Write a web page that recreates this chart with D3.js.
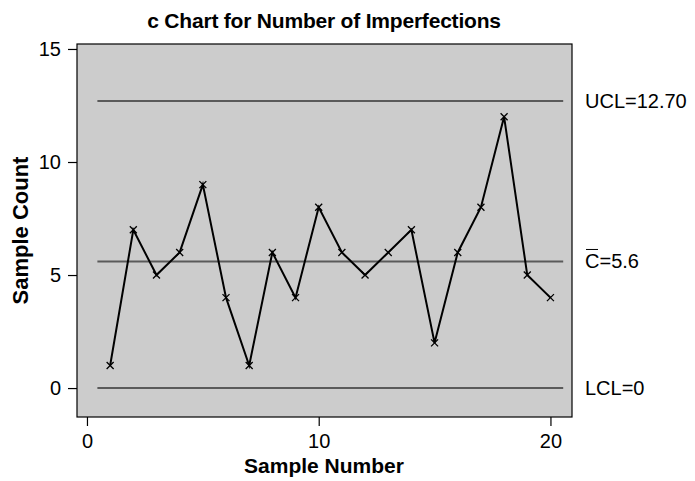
<!DOCTYPE html>
<html>
<head>
<meta charset="utf-8">
<script src="https://cdn.jsdelivr.net/npm/d3@7"></script>
<style>
  html, body { margin: 0; padding: 0; background: #fff; }
  svg { display: block; font-family: "Liberation Sans", Arial, Helvetica, sans-serif; }
</style>
</head>
<body>
<svg id="chart" width="695" height="481"></svg>
<script>
// ---------- data ----------
const samples = d3.range(1, 21);
const counts = [1, 7, 5, 6, 9, 4, 1, 6, 4, 8, 6, 5, 6, 7, 2, 6, 8, 12, 5, 4];
const xTicks = [0, 10, 20];
const yTicks = [0, 5, 10, 15];
const limits = [
  { key: 'UCL', value: 12.70, label: 'UCL=12.70' },
  { key: 'CL', value: 5.6, label: '=5.6' },
  { key: 'LCL', value: 0, label: 'LCL=0' }
];

const svg = d3.select('#chart');
const m = { l: 77, r: 572, t: 44, b: 417 };

const x = d3.scaleLinear().domain([-0.43, 20.93]).range([m.l, m.r]);
const y = d3.scaleLinear().domain([-1.28, 15.22]).range([m.b, m.t]);

// title
svg.append('text').attr('x', 324).attr('y', 28).attr('text-anchor', 'middle')
  .attr('font-size', 21).attr('font-weight', 700).attr('letter-spacing', -0.2)
  .text('c Chart for Number of Imperfections');

// plot background
svg.append('rect').attr('x', m.l).attr('y', m.t).attr('width', m.r - m.l).attr('height', m.b - m.t)
  .attr('fill', '#cccccc').attr('stroke', '#000').attr('stroke-width', 1.2);

// axes
const yAxis = svg.append('g').attr('transform', `translate(${m.l},0)`)
  .call(d3.axisLeft(y).tickValues(yTicks).tickSize(9).tickPadding(7));
const xAxis = svg.append('g').attr('transform', `translate(0,${m.b})`)
  .call(d3.axisBottom(x).tickValues(xTicks).tickSize(9).tickPadding(8));
[yAxis, xAxis].forEach(a => {
  a.select('.domain').remove();
  a.selectAll('line').attr('stroke', '#000').attr('stroke-width', 1.2);
  a.selectAll('text').attr('font-size', 20).attr('fill', '#000')
    .attr('font-family', '"Liberation Sans", Arial, sans-serif');
});

// axis titles
svg.append('text').attr('x', 324).attr('y', 473).attr('text-anchor', 'middle')
  .attr('font-size', 21).attr('font-weight', 700).text('Sample Number');
svg.append('text').attr('transform', `translate(28,${(m.t + m.b) / 2}) rotate(-90)`)
  .attr('text-anchor', 'middle').attr('font-size', 22).attr('font-weight', 700).text('Sample Count');

// control lines
const lx0 = x(0.45), lx1 = x(20.55);
svg.append('g').selectAll('line').data(limits).join('line')
  .attr('x1', lx0).attr('x2', lx1)
  .attr('y1', d => y(d.value)).attr('y2', d => y(d.value))
  .attr('stroke', '#5a5a5a').attr('stroke-width', 2);

// limit labels
const lab = svg.append('g').selectAll('text').data(limits).join('text')
  .attr('x', 585).attr('y', d => y(d.value) + 7)
  .attr('font-size', 20).attr('fill', '#000');
lab.each(function (d) {
  const t = d3.select(this);
  if (d.key === 'CL') {
    t.append('tspan').text('C');
    t.append('tspan').text(d.label);
  } else {
    t.text(d.label);
  }
});
// bar over the C
svg.append('line').attr('x1', 586).attr('x2', 598)
  .attr('y1', y(5.6) - 12).attr('y2', y(5.6) - 12)
  .attr('stroke', '#000').attr('stroke-width', 1);

// data line
const pts = samples.map((s, i) => ({ s, c: counts[i] }));
svg.append('path').datum(pts)
  .attr('d', d3.line().x(d => x(d.s)).y(d => y(d.c)))
  .attr('fill', 'none').attr('stroke', '#000').attr('stroke-width', 2);

// x markers
const r = 3.5;
svg.append('g').selectAll('path').data(pts).join('path')
  .attr('d', d => {
    const cx = x(d.s), cy = y(d.c);
    return `M${cx - r},${cy - r}L${cx + r},${cy + r}M${cx - r},${cy + r}L${cx + r},${cy - r}`;
  })
  .attr('stroke', '#000').attr('stroke-width', 1.3);
</script>
</body>
</html>
